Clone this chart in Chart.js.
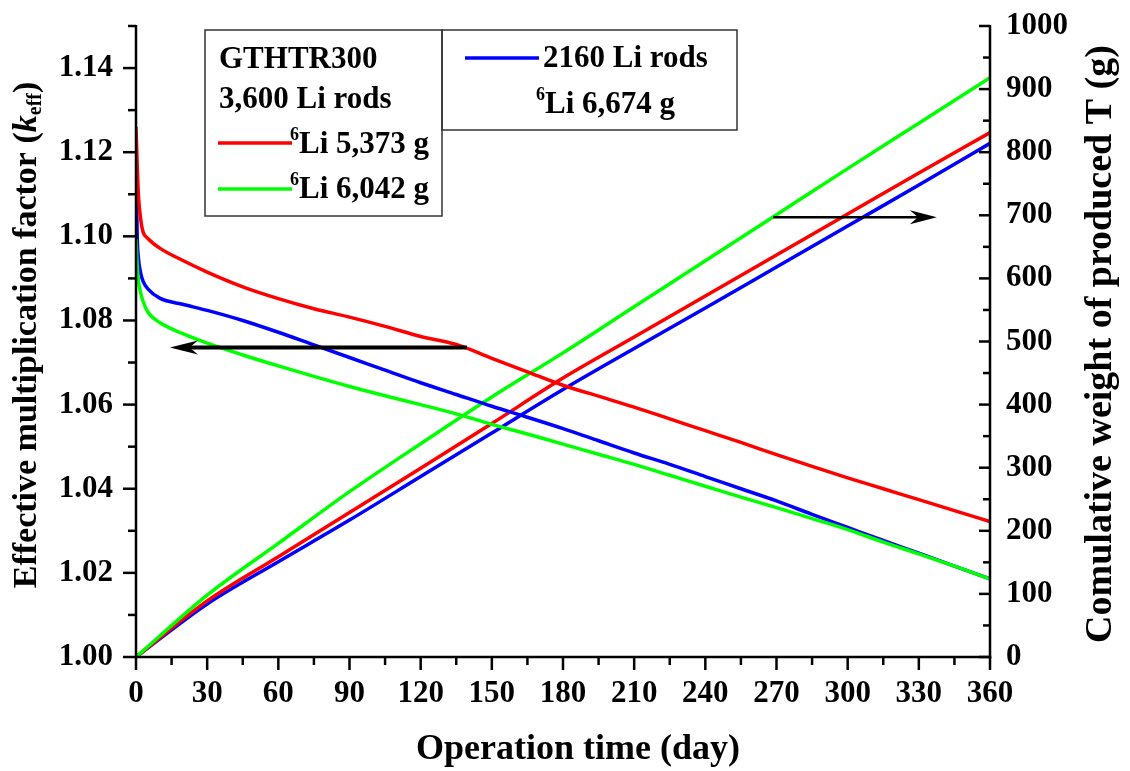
<!DOCTYPE html>
<html>
<head>
<meta charset="utf-8">
<script src="https://cdn.jsdelivr.net/npm/chart.js@4.4.0/dist/chart.umd.min.js"></script>
<style>
  html, body { margin: 0; padding: 0; background: #fff; }
</style>
</head>
<body>
<canvas id="chart" width="1130" height="771"></canvas>
<script>
// k_eff vs operation time (day)
const kDays = [0, 0.5, 1, 2, 3, 5, 10, 20, 30, 45, 60, 75, 90, 105, 120, 135, 150, 165, 180, 195, 210, 225, 240, 255, 270, 285, 300, 315, 330, 345, 360];
const kRed = [1.1260, 1.1170, 1.1100, 1.1040, 1.1010, 1.0995, 1.0972, 1.0942, 1.0915, 1.0880, 1.0852, 1.0828, 1.0808, 1.0786, 1.0762, 1.0743, 1.0710, 1.0678, 1.0646, 1.0620, 1.0594, 1.0566, 1.0538, 1.0510, 1.0481, 1.0453, 1.0426, 1.0400, 1.0374, 1.0348, 1.0322];
const kGreen = [1.0993, 1.0930, 1.0895, 1.0865, 1.0845, 1.0820, 1.0795, 1.0768, 1.0746, 1.0718, 1.0692, 1.0667, 1.0643, 1.0621, 1.0600, 1.0578, 1.0553, 1.0530, 1.0506, 1.0482, 1.0458, 1.0432, 1.0406, 1.0380, 1.0355, 1.0329, 1.0303, 1.0273, 1.0245, 1.0216, 1.0186];
const kBlue = [1.1176, 1.1000, 1.0950, 1.0912, 1.0893, 1.0875, 1.0853, 1.0838, 1.0824, 1.0800, 1.0772, 1.0742, 1.0712, 1.0682, 1.0652, 1.0624, 1.0596, 1.0570, 1.0543, 1.0514, 1.0485, 1.0458, 1.0429, 1.0400, 1.0371, 1.0339, 1.0308, 1.0277, 1.0247, 1.0216, 1.0186];

// cumulative tritium (g) vs operation time (day)
const tDays = [0, 30, 60, 90, 120, 150, 180, 210, 240, 270, 300, 330, 360];
const tRed = [0, 89, 159, 229, 299, 370, 442, 507, 572, 637, 702, 767, 831];
const tGreen = [0, 98, 180, 262, 338, 412, 482, 555, 628, 701, 774, 846, 918];
const tBlue = [0, 84, 151, 217, 286, 355, 424, 489, 553, 618, 683, 748, 814];

// axis ticks
const xTicks = [0, 30, 60, 90, 120, 150, 180, 210, 240, 270, 300, 330, 360];
const xMinor = [15, 45, 75, 105, 135, 165, 195, 225, 255, 285, 315, 345];
const kTicks = [1.00, 1.02, 1.04, 1.06, 1.08, 1.10, 1.12, 1.14];
const kMinor = [1.01, 1.03, 1.05, 1.07, 1.09, 1.11, 1.13, 1.15];
const tTicks = [0, 100, 200, 300, 400, 500, 600, 700, 800, 900, 1000];
const tMinor = [50, 150, 250, 350, 450, 550, 650, 750, 850, 950];

// arrows pointing to the axis each family belongs to
const kArrow = { y: 1.0736, from: 139.5, to: 14.3 };
const tArrow = { y: 697, from: 268.6, to: 337.6 };

const SERIF = '"Liberation Serif", "Times New Roman", serif';
const RED = '#ff0000', GREEN = '#00ff00', BLUE = '#0000ff';

const pts = (xs, ys) => xs.map((x, i) => ({ x, y: ys[i] }));

function line(ctx, x1, y1, x2, y2) {
  ctx.beginPath();
  ctx.moveTo(x1, y1);
  ctx.lineTo(x2, y2);
  ctx.stroke();
}

// draw a list of [text, font, dy] pieces one after another
function runs(ctx, x, y, parts) {
  for (const [t, f, dy] of parts) {
    ctx.font = f;
    ctx.fillText(t, x, y + (dy || 0));
    x += ctx.measureText(t).width;
  }
}

function runsWidth(ctx, parts) {
  let w = 0;
  for (const [t, f] of parts) { ctx.font = f; w += ctx.measureText(t).width; }
  return w;
}

function arrow(ctx, x1, x2, y, lw, headLen, headHalf) {
  const dir = Math.sign(x2 - x1);
  ctx.lineWidth = lw;
  line(ctx, x1, y, x2 - dir * headLen * 0.6, y);
  ctx.beginPath();
  ctx.moveTo(x2, y);
  ctx.lineTo(x2 - dir * headLen, y - headHalf);
  ctx.lineTo(x2 - dir * headLen * 0.7, y);
  ctx.lineTo(x2 - dir * headLen, y + headHalf);
  ctx.closePath();
  ctx.fill();
}

const decor = {
  id: 'decor',
  afterDatasetsDraw(chart) {
    const { ctx, chartArea: a, scales } = chart;
    const x = scales.x, yk = scales.yK, yt = scales.yT;
    ctx.save();
    ctx.strokeStyle = '#000';
    ctx.fillStyle = '#000';

    // axis frame: left, bottom, right
    ctx.lineWidth = 2.5;
    line(ctx, a.left, a.top - 1, a.left, a.bottom + 1.25);
    line(ctx, a.left - 1.25, a.bottom, a.right + 1.25, a.bottom);
    line(ctx, a.right, a.top - 1, a.right, a.bottom + 1.25);

    // tick marks
    xTicks.forEach(v => { const p = x.getPixelForValue(v); line(ctx, p, a.bottom, p, a.bottom + 13); });
    xMinor.forEach(v => { const p = x.getPixelForValue(v); line(ctx, p, a.bottom, p, a.bottom + 8); });
    kTicks.forEach(v => { const p = yk.getPixelForValue(v); line(ctx, a.left - 13, p, a.left, p); });
    kMinor.forEach(v => { const p = yk.getPixelForValue(v); line(ctx, a.left - 8, p, a.left, p); });
    tTicks.forEach(v => { const p = yt.getPixelForValue(v); line(ctx, a.right - 11, p, a.right, p); });
    tMinor.forEach(v => { const p = yt.getPixelForValue(v); line(ctx, a.right - 7, p, a.right, p); });

    // arrows
    arrow(ctx, x.getPixelForValue(kArrow.from), x.getPixelForValue(kArrow.to),
      yk.getPixelForValue(kArrow.y), 4, 28, 7);
    arrow(ctx, x.getPixelForValue(tArrow.from), x.getPixelForValue(tArrow.to),
      yt.getPixelForValue(tArrow.y), 2.5, 27, 7);

    // legend boxes
    const bold = 'bold 31px ' + SERIF;
    const sup = 'bold 18px ' + SERIF;
    ctx.fillStyle = '#fff';
    ctx.fillRect(205, 30, 237, 186);
    ctx.fillRect(442, 30, 295, 100);
    ctx.strokeStyle = '#333';
    ctx.lineWidth = 1.5;
    ctx.strokeRect(205, 30, 237, 186);
    ctx.strokeRect(442, 30, 295, 100);

    ctx.fillStyle = '#000';
    ctx.textBaseline = 'alphabetic';
    ctx.textAlign = 'left';
    runs(ctx, 219, 68, [['GTHTR300', bold]]);
    runs(ctx, 219, 108, [['3,600 Li rods', bold]]);
    runs(ctx, 290, 153, [['6', sup, -13], ['Li 5,373 g', bold]]);
    runs(ctx, 290, 198, [['6', sup, -13], ['Li 6,042 g', bold]]);
    runs(ctx, 543, 67, [['2160 Li rods', bold]]);
    runs(ctx, 536, 113, [['6', sup, -13], ['Li 6,674 g', bold]]);

    ctx.lineWidth = 3.5;
    ctx.strokeStyle = RED; line(ctx, 218, 143, 292, 143);
    ctx.strokeStyle = GREEN; line(ctx, 218, 189, 292, 189);
    ctx.strokeStyle = BLUE; line(ctx, 465, 58, 539, 58);

    // axis titles
    ctx.fillStyle = '#000';
    ctx.textBaseline = 'middle';
    ctx.textAlign = 'center';
    ctx.font = 'bold 36px ' + SERIF;
    ctx.fillText('Operation time (day)', 578, 750);

    ctx.save();
    ctx.translate(1101, 344);
    ctx.rotate(-Math.PI / 2);
    ctx.font = 'bold 38px ' + SERIF;
    ctx.fillText('Comulative weight of produced T (g)', 0, 0);
    ctx.restore();

    const title = 'bold 34px ' + SERIF;
    const left = [
      ['Effective multiplication factor (', title, 0],
      ['k', 'italic bold 34px ' + SERIF, 0],
      ['eff', 'bold 20px ' + SERIF, 9],
      [')', title, 0]
    ];
    ctx.save();
    ctx.translate(27, 335);
    ctx.rotate(-Math.PI / 2);
    ctx.textAlign = 'left';
    runs(ctx, -runsWidth(ctx, left) / 2, 0, left);
    ctx.restore();

    ctx.restore();
  }
};

const tickFont = { family: SERIF, size: 31, weight: 'bold' };
const ds = (label, data, color, axis) => ({
  label, data, yAxisID: axis,
  borderColor: color, backgroundColor: color,
  borderWidth: 3.5, pointRadius: 0,
  cubicInterpolationMode: 'monotone'
});
const noPadY = s => { s.paddingTop = 0; s.paddingBottom = 0; };

new Chart(document.getElementById('chart'), {
  type: 'line',
  data: {
    datasets: [
      ds('3600 rods, 6Li 6,042 g', pts(kDays, kGreen), GREEN, 'yK'),
      ds('3600 rods, 6Li 5,373 g', pts(kDays, kRed), RED, 'yK'),
      ds('2160 rods, 6Li 6,674 g', pts(kDays, kBlue), BLUE, 'yK'),
      ds('T 6,042 g', pts(tDays, tGreen), GREEN, 'yT'),
      ds('T 5,373 g', pts(tDays, tRed), RED, 'yT'),
      ds('T 6,674 g', pts(tDays, tBlue), BLUE, 'yT')
    ]
  },
  options: {
    responsive: false,
    animation: false,
    devicePixelRatio: 1,
    layout: { padding: { top: 26, left: 0, right: 0, bottom: 0 } },
    plugins: { legend: { display: false }, tooltip: { enabled: false } },
    scales: {
      x: {
        type: 'linear', min: 0, max: 360,
        afterBuildTicks: s => { s.ticks = xTicks.map(v => ({ value: v })); },
        afterFit: s => { s.height = 114; s.paddingLeft = 0; s.paddingRight = 0; },
        grid: { display: false, drawTicks: false },
        border: { display: false },
        ticks: { font: tickFont, color: '#000', padding: 18, maxRotation: 0, autoSkip: false }
      },
      yK: {
        position: 'left', min: 1.0, max: 1.15,
        afterBuildTicks: s => { s.ticks = kTicks.map(v => ({ value: v })); },
        afterFit: s => { s.width = 136; noPadY(s); },
        grid: { display: false, drawTicks: false },
        border: { display: false },
        ticks: { font: tickFont, color: '#000', padding: 23, callback: v => v.toFixed(2) }
      },
      yT: {
        position: 'right', min: 0, max: 1000,
        afterBuildTicks: s => { s.ticks = tTicks.map(v => ({ value: v })); },
        afterFit: s => { s.width = 140; noPadY(s); },
        grid: { display: false, drawTicks: false },
        border: { display: false },
        ticks: { font: tickFont, color: '#000', padding: 16, callback: v => String(v) }
      }
    }
  },
  plugins: [decor]
});
</script>
</body>
</html>
